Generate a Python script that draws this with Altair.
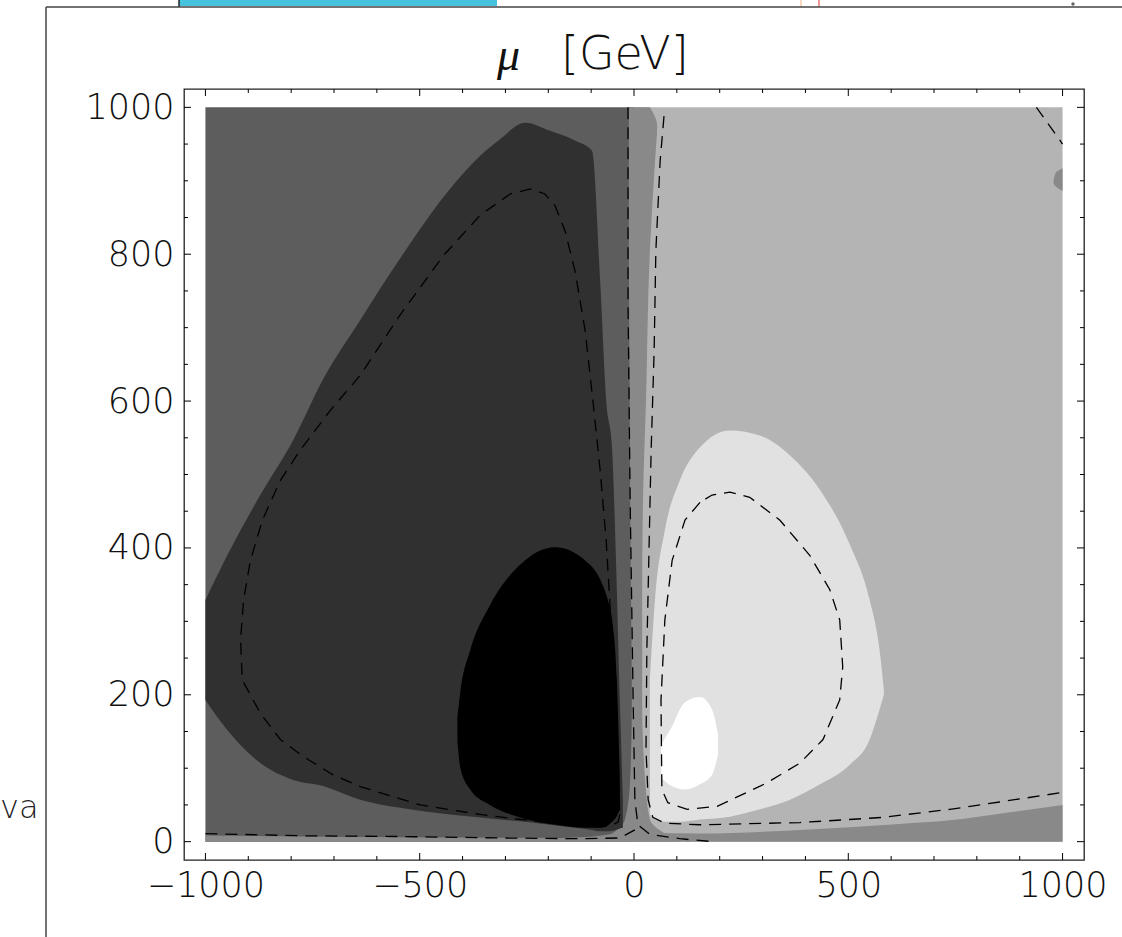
import altair as alt
import pandas as pd

W, H = 900, 771
X_DOMAIN = [-1050, 1050]
Y_DOMAIN = [-25, 1025]

# ---- tick values ----
x_labels = [-1000, -500, 0, 500, 1000]
x_minor = [-900, -800, -700, -600, -400, -300, -200, -100, 100, 200, 300, 400, 600, 700, 800, 900]
y_labels = [0, 200, 400, 600, 800, 1000]
y_minor = [50, 100, 150, 250, 300, 350, 450, 500, 550, 650, 700, 750, 850, 900, 950]

# ---- filled contour regions ----
bg_left_x = [-1000, 0]
bg_right_x = [0, 1000]
bg_y = [0, 1000]

# dark region (x, lower, upper)
b_x = [-1000, -949, -872, -795, -727, -639, -546, -429, -359, -312, -254, -196, -138, -98, -79, -65, -51, -42, -33, -26]
b_lo = [193, 152, 107, 84, 76, 57, 46, 37, 33, 30, 27, 23, 19, 16, 14, 14, 15, 16, 18, 19]
b_hi = [329, 390, 472, 547, 628, 710, 794, 889, 934, 957, 979, 968, 955, 941, 764, 601, 533, 383, 193, 57]

# black region
c_x = [-412, -405, -382, -336, -266, -184, -114, -79, -61, -51, -40, -33]
c_lo = [135, 100, 71, 50, 33, 23, 19, 19, 22, 27, 35, 44]
c_hi = [170, 205, 261, 322, 377, 401, 383, 357, 329, 302, 220, 84]

# mid-gray bottom band
d_x = [-1000, -545, -170, -80, -30, 0, 37, 154, 387, 620, 737, 853, 1000]
d_top = [8.5, 6, 5, 8, 12, 14, 12, 11, 16, 24, 29, 38, 50]

# mid-gray strip near mu = 0 (y, left, right)
ds_y = [0, 30, 84, 193, 329, 465, 601, 805, 927, 975, 1000]
ds_x1 = [-79, -21, -9, -5, -7, -9, -10, -12, -12, -12, -12]
ds_x2 = [107, 37, 26, 19, 19, 21, 28, 37, 49, 54, 37]

# mid-gray patch at right edge
dp_y = [886, 897, 910, 917]
dp_x1 = [1000, 979, 983, 1000]
dp_x2 = [1000, 1000, 1000, 1000]

# very light region
f_x = [37, 49, 72, 107, 154, 224, 294, 364, 434, 504, 550, 573, 583]
f_lo = [37, 30, 27, 27, 30, 34, 44, 57, 78, 105, 139, 180, 200]
f_hi = [220, 329, 424, 492, 537, 560, 553, 526, 479, 404, 329, 261, 207]

# white region
g_x = [63, 84, 119, 154, 182, 196]
g_lo = [87, 77, 71, 78, 91, 118]
g_hi = [132, 152, 190, 197, 180, 146]

# ---- dashed contour lines ----
l1_x = [-33, -37, -51, -79, -219, -359, -499, -639, -702, -772, -825, -872, -914, -918, -911, -895, -867,
        -825, -779, -709, -639, -546, -445, -359, -289, -242, -208, -184, -161, -138, -114, -96, -79,
        -65, -54, -44, -37, -33]
l1_y = [37, 27, 22, 20, 27, 37, 50, 75, 91, 116, 139, 175, 220, 275, 329, 383, 438,
        492, 533, 587, 635, 717, 798, 853, 882, 889, 882, 866, 832, 778, 696, 601, 506,
        411, 302, 193, 84, 37]

l2_x = [154, 119, 89, 72, 63, 65, 79, 124, 194, 310, 387, 441, 480, 487, 480, 457, 410, 340, 270, 224, 182, 154]
l2_y = [462, 438, 383, 302, 193, 71, 53, 44, 48, 80, 107, 139, 193, 238, 302, 343, 390, 438, 469, 476, 472, 462]

l3_x = [70, 61, 51, 47, 40, 35, 30, 28, 33, 44, 72, 154, 387, 580, 737, 853, 1000]
l3_y = [988, 927, 805, 669, 533, 397, 261, 125, 57, 33, 25, 23, 26, 33, 44, 54, 67]

l4_x = [-14, -14, -9, -2, 2, 9, 37, 107, 184]
l4_y = [1000, 737, 465, 193, 57, 23, 10, 4, 0]

l5_x = [-1000, -779, -546, -312, -126, -33, 2]
l5_y = [11, 8, 7, 5, 4, 5, 16]

l6_x = [939, 1000]
l6_y = [1000, 950]

# ---- colours ----
C_A, C_B, C_C, C_D, C_E, C_F, C_G = "#5d5d5d", "#303030", "#000000", "#898989", "#b4b4b4", "#e1e1e1", "#ffffff"

X_AXIS = alt.Axis(values=x_labels, title=None, ticks=False, tickSize=0, domain=False, grid=False,
                  labelFontSize=35, labelFont="DejaVu Sans", labelFontWeight=300, labelColor="#111",
                  labelPadding=8, format="d", labelFlush=False, labelOverlap=False)
Y_AXIS = alt.Axis(values=y_labels, title=None, ticks=False, tickSize=0, domain=False, grid=False,
                  labelFontSize=35, labelFont="DejaVu Sans", labelFontWeight=300, labelColor="#111",
                  labelPadding=10, format="d", labelFlush=False, labelOverlap=False)
XS = alt.Scale(domain=X_DOMAIN, nice=False, zero=False)
YS = alt.Scale(domain=Y_DOMAIN, nice=False, zero=False)


def xe(f):
    return alt.X(f, type="quantitative", scale=XS, axis=X_AXIS)


def ye(f):
    return alt.Y(f, type="quantitative", scale=YS, axis=Y_AXIS)


def band(xs, lo, hi, color):
    df = pd.DataFrame({"x": xs, "lo": lo, "hi": hi})
    return alt.Chart(df).mark_area(color=color, interpolate="monotone", opacity=1).encode(
        x=xe("x"), y=ye("lo"), y2="hi")


def hband(ys, x1, x2, color):
    df = pd.DataFrame({"y": ys, "x1": x1, "x2": x2})
    return alt.Chart(df).mark_area(color=color, orient="horizontal", interpolate="monotone", opacity=1).encode(
        y=ye("y"), x=xe("x1"), x2="x2")


def rect(xr, yr, color):
    df = pd.DataFrame({"x1": [xr[0]], "x2": [xr[1]], "y1": [yr[0]], "y2": [yr[1]]})
    return alt.Chart(df).mark_rect(color=color).encode(x=xe("x1"), x2="x2", y=ye("y1"), y2="y2")


def dashed(xs, ys):
    df = pd.DataFrame({"x": xs, "y": ys, "i": list(range(len(xs)))})
    return alt.Chart(df).mark_line(color="black", strokeDash=[12, 8], strokeWidth=1.3).encode(
        x=xe("x"), y=ye("y"), order="i:Q")


def xticks(vals, length, top):
    df = pd.DataFrame({"v": vals})
    if top:
        return alt.Chart(df).mark_rule(color="black").encode(x=xe("v"), y=alt.value(0), y2=alt.value(length))
    return alt.Chart(df).mark_rule(color="black").encode(x=xe("v"), y=alt.value(H), y2=alt.value(H - length))


def yticks(vals, length, right):
    df = pd.DataFrame({"v": vals})
    if right:
        return alt.Chart(df).mark_rule(color="black").encode(y=ye("v"), x=alt.value(W), x2=alt.value(W - length))
    return alt.Chart(df).mark_rule(color="black").encode(y=ye("v"), x=alt.value(0), x2=alt.value(length))


one = pd.DataFrame({"k": [0]})

layers = [
    rect(bg_right_x, bg_y, C_E),
    rect(bg_left_x, bg_y, C_A),
    band(d_x, [0] * len(d_x), d_top, C_D),
    hband(ds_y, ds_x1, ds_x2, C_D),
    hband(dp_y, dp_x1, dp_x2, C_D),
    band(b_x, b_lo, b_hi, C_B),
    band(c_x, c_lo, c_hi, C_C),
    band(f_x, f_lo, f_hi, C_F),
    band(g_x, g_lo, g_hi, C_G),
    dashed(l1_x, l1_y),
    dashed(l2_x, l2_y),
    dashed(l3_x, l3_y),
    dashed(l4_x, l4_y),
    dashed(l5_x, l5_y),
    dashed(l6_x, l6_y),
    xticks(x_labels, 7, False), xticks(x_minor, 4, False),
    xticks(x_labels, 7, True), xticks(x_minor, 4, True),
    yticks(y_labels, 7, False), yticks(y_minor, 4, False),
    yticks(y_labels, 7, True), yticks(y_minor, 4, True),
    # title
    alt.Chart(one).mark_text(text="μ", font="Liberation Serif", fontStyle="italic", fontSize=46,
                             align="left", baseline="alphabetic", color="#111").encode(
        x=alt.value(313), y=alt.value(-19)),
    alt.Chart(one).mark_text(text="[GeV]", font="DejaVu Sans", fontSize=46, fontWeight=300,
                             align="left", baseline="alphabetic", color="#111").encode(
        x=alt.value(377), y=alt.value(-20)),
    # surrounding page fragments
    alt.Chart(one).mark_text(text="va", font="DejaVu Sans", fontSize=32, fontWeight=300, align="left",
                             baseline="alphabetic", color="#222").encode(x=alt.value(-184), y=alt.value(729)),
    alt.Chart(one).mark_rect(color="white").encode(x=alt.value(-137), x2=alt.value(-90),
                                                   y=alt.value(690), y2=alt.value(745)),
    alt.Chart(one).mark_rect(color="#46c3dc").encode(x=alt.value(-5), x2=alt.value(313),
                                                    y=alt.value(-89), y2=alt.value(-83)),
    alt.Chart(one).mark_rule(color="#222", strokeWidth=1.5).encode(x=alt.value(-5), y=alt.value(-89), y2=alt.value(-82)),
    alt.Chart(one).mark_rule(color="#f4b183", strokeWidth=1).encode(x=alt.value(617), y=alt.value(-89), y2=alt.value(-82)),
    alt.Chart(one).mark_rule(color="#e03030", strokeWidth=1).encode(x=alt.value(635), y=alt.value(-89), y2=alt.value(-82)),
    alt.Chart(one).mark_point(color="#222", filled=True, size=12).encode(x=alt.value(889), y=alt.value(-85)),
    alt.Chart(one).mark_rule(color="#444", strokeWidth=1.5).encode(x=alt.value(-138), x2=alt.value(938), y=alt.value(-82)),
    alt.Chart(one).mark_rule(color="#444", strokeWidth=1.5).encode(x=alt.value(-138), y=alt.value(-82), y2=alt.value(848)),
]

chart = alt.layer(*layers).properties(
    width=W, height=H,
    autosize=alt.AutoSizeParams(type="none"),
    padding={"left": 184, "top": 89, "right": 38, "bottom": 77},
    background="white",
).configure_view(stroke="#222", strokeWidth=1.3)

chart.save("out.html", embed_options={"renderer": "svg", "actions": False})
